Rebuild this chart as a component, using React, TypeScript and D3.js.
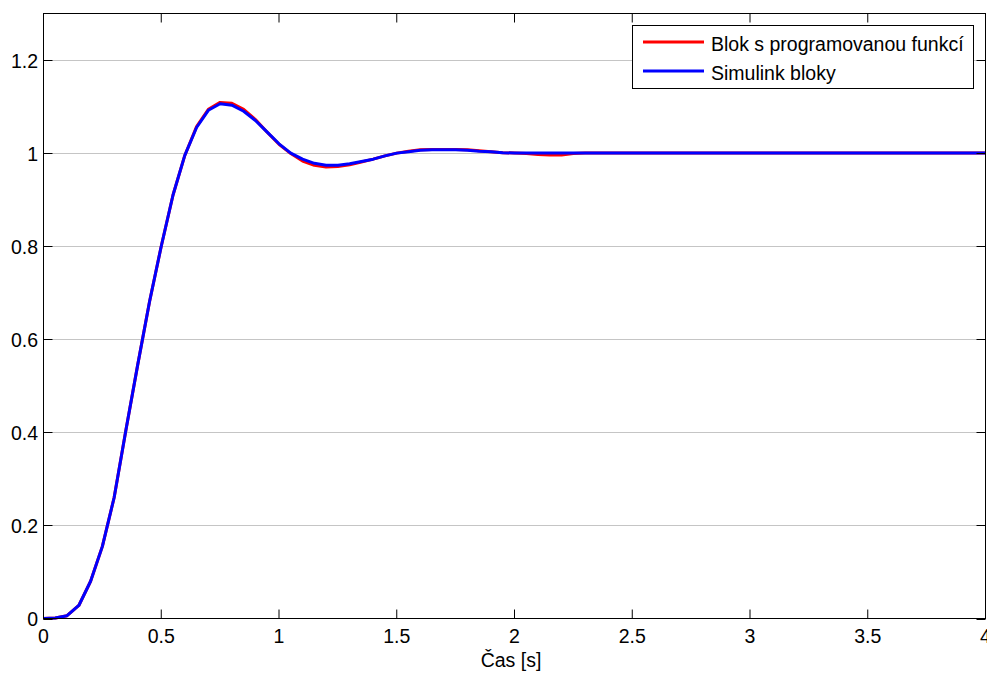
import React from "react";
import * as d3 from "d3";

const times = [0,0.05,0.1,0.15,0.2,0.25,0.3,0.35,0.4,0.45,0.5,0.55,0.6,0.65,0.7,0.75,0.8,0.85,0.9,0.95,1.0,1.05,1.1,1.15,1.2,1.25,1.3,1.35,1.4,1.45,1.5,1.55,1.6,1.65,1.7,1.75,1.8,1.85,1.9,1.95,2.0,2.05,2.1,2.15,2.2,2.25,2.3,2.5,3.0,3.5,4.0];
const blueValues = [0,0.001,0.006,0.028,0.08,0.155,0.26,0.405,0.545,0.68,0.8,0.91,0.995,1.055,1.092,1.106,1.103,1.09,1.07,1.045,1.02,1.0,0.987,0.978,0.974,0.974,0.977,0.982,0.987,0.994,1.0,1.003,1.006,1.007,1.007,1.007,1.006,1.004,1.003,1.001,1.0,1.0,1.0,1.0,1.0,1.0,1.0,1.0,1.0,1.0,1.0];
const redValues = [0,0.001,0.006,0.028,0.08,0.155,0.26,0.405,0.545,0.68,0.8,0.91,0.995,1.057,1.094,1.109,1.107,1.094,1.072,1.045,1.019,0.999,0.983,0.974,0.970,0.971,0.975,0.981,0.987,0.994,1.0,1.004,1.007,1.008,1.008,1.008,1.007,1.005,1.003,1.001,1.0,0.999,0.997,0.996,0.996,0.999,1.0,1.0,1.0,1.0,1.0];
const xTicks = [0,0.5,1,1.5,2,2.5,3,3.5,4];
const yTicks = [0,0.2,0.4,0.6,0.8,1,1.2];
const seriesNames = ["Blok s programovanou funkcí","Simulink bloky"];
const xLabel = "Čas [s]";

const W = 987, H = 675;
const L = 43.5, R = 985.5, T = 13.5, B = 618.5;
const font = "'Liberation Sans', Arial, sans-serif";
const fs = 19.5;

export default function App() {
  const x = d3.scaleLinear().domain([0, 4]).range([L, R]);
  const y = d3.scaleLinear().domain([0, 1.3]).range([B, T]);
  const line = d3.line<number>().x((_, i) => x(times[i])).y(d => y(d));
  const tickLen = 9;
  return (
    <svg width={W} height={H} style={{ position: "absolute", left: 0, top: 0, background: "#fff" }} fontFamily={font}>
      <rect x={0} y={0} width={W} height={H} fill="#fff" />
      {yTicks.filter(t => t > 0).map(t => (
        <line key={"g" + t} x1={L} x2={R} y1={Math.round(y(t)) + 0.5} y2={Math.round(y(t)) + 0.5} stroke="#8a8a8a" strokeWidth={1} strokeDasharray="1,1" />
      ))}
      <path d={line(redValues) || ""} fill="none" stroke="#ff0000" strokeWidth={3} strokeLinejoin="round" />
      <path d={line(blueValues) || ""} fill="none" stroke="#0000ff" strokeWidth={3} strokeLinejoin="round" />
      <rect x={L} y={T} width={R - L} height={B - T} fill="none" stroke="#000" strokeWidth={1} />
      {xTicks.map(t => (
        <g key={"x" + t}>
          <line x1={x(t)} x2={x(t)} y1={B} y2={B - tickLen} stroke="#000" />
          <line x1={x(t)} x2={x(t)} y1={T} y2={T + tickLen} stroke="#000" />
          <text x={x(t)} y={643} fontSize={fs} textAnchor="middle" fill="#000">{String(t)}</text>
        </g>
      ))}
      {yTicks.map(t => (
        <g key={"y" + t}>
          <line x1={L} x2={L + tickLen} y1={Math.round(y(t)) + 0.5} y2={Math.round(y(t)) + 0.5} stroke="#000" />
          <line x1={R} x2={R - tickLen} y1={Math.round(y(t)) + 0.5} y2={Math.round(y(t)) + 0.5} stroke="#000" />
          <text x={38} y={y(t) + 7.5} fontSize={fs} textAnchor="end" fill="#000">{String(t)}</text>
        </g>
      ))}
      <text x={511} y={667} fontSize={fs} textAnchor="middle" fill="#000">{xLabel}</text>
      <g>
        <rect x={632.5} y={25.5} width={341} height={63} fill="#fff" stroke="#000" strokeWidth={1} />
        {seriesNames.map((n, i) => (
          <g key={n}>
            <line x1={643} x2={704} y1={42 + i * 29} y2={42 + i * 29} stroke={i === 0 ? "#ff0000" : "#0000ff"} strokeWidth={3} />
            <text x={711} y={51 + i * 29} fontSize={fs} fill="#000">{n}</text>
          </g>
        ))}
      </g>
    </svg>
  );
}
